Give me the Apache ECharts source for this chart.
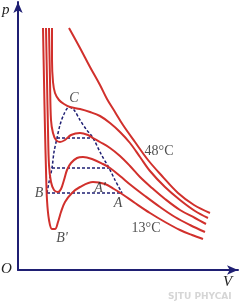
<!DOCTYPE html>
<html>
<head>
<meta charset="utf-8">
<script src="https://cdn.jsdelivr.net/npm/echarts@6/dist/echarts.min.js"></script>
<style>
  html, body { margin: 0; padding: 0; background: #fff; }
  #chart { width: 240px; height: 302px; }
</style>
</head>
<body>
<div id="chart"></div>
<script>
// isotherms, [V, p] (top one is 48°C, bottom one 13°C)
const iso48 = [[51,242],[62,222],[72,203],[82,185],[89,171],[97,158],[105,145],[117,128],[130,110],[144,94],[160,77],[176,65],[192,57]]
const isoCrit = [[34,242],[34,210],[35,188],[37,177],[41,170],[46,166],[52,163],[62,161],[72,158],[82,154],[92,147],[102,138],[112,127],[122,113],[132,99],[147,83],[162,70],[177,59],[190,52]]
const isoMid = [[31,242],[32,190],[33,150],[35,137],[38,130],[42,128],[47,130],[53,135],[62,137],[70,135],[75,132],[82,128],[92,122],[102,114],[112,104],[122,93],[134,82],[147,71],[162,60],[177,52],[188,46]]
const isoLow = [[28,242],[29,190],[30,140],[31,105],[33,88],[36,80],[40,78],[43,81],[46,90],[49,100],[53,107],[59,112],[65,113],[74,111],[85,106],[92,102],[102,94],[114,84],[127,74],[142,63],[157,53],[172,45],[187,38]]
const iso13 = [[25,242],[26,190],[27,140],[28,100],[29,70],[31,50],[34,41],[37,41],[40,48],[43,58],[47,68],[54,77],[62,83],[75,88],[87,86],[96,81],[104,76],[117,67],[132,57],[147,48],[162,40],[174,35],[185,31]]

// saturation dome and the horizontal tie lines
const dome = [[29,77],[31,88],[34,102],[36,118],[39,132],[42,145],[46,156],[51,163],[56,160],[62,150],[68,141],[75,132],[83,116],[91,102],[97,90],[104,77]]
const tieLines = [
  [[39,132],[75,132]],
  [[34,102],[91,102]],
  [[29,77],[104,77]]
]

// point names on the figure
const pointLabels = [
  { name: 'C', value: [56,172] },
  { name: 'B', value: [21,77] },
  { name: 'A', value: [100,67] },
  { name: "A'", value: [82,82] },
  { name: "B'", value: [44,32] }
]
const tempLabels = [
  { name: '48°C', value: [141,119] },
  { name: '13°C', value: [128,42] }
]

const red = '#d1302c'
const navy = '#1f1f73'

const chart = echarts.init(document.getElementById('chart'))

function isoSeries(data) {
  return {
    type: 'line',
    data: data,
    showSymbol: false,
    smooth: 0.35,
    silent: true,
    lineStyle: { color: red, width: 2 },
    z: 3
  }
}

function dashSeries(data, smooth) {
  return {
    type: 'line',
    data: data,
    showSymbol: false,
    smooth: smooth,
    silent: true,
    lineStyle: { color: navy, width: 1.5, type: [3, 2] },
    z: 2
  }
}

const axisCommon = {
  type: 'value',
  axisLine: {
    show: true,
    symbol: ['none', 'arrow'],
    symbolSize: [7, 11],
    lineStyle: { color: navy, width: 2 }
  },
  axisTick: { show: false },
  axisLabel: { show: false },
  splitLine: { show: false }
}

chart.setOption({
  animation: false,
  grid: { left: 18, top: 2, width: 220, height: 268 },
  xAxis: Object.assign({}, axisCommon, { min: 0, max: 220 }),
  yAxis: Object.assign({}, axisCommon, { min: 0, max: 268 }),
  graphic: [
    { type: 'text', left: 2, top: 3, style: { text: 'p', font: 'italic 15px "Liberation Serif"', fill: '#222' } },
    { type: 'text', left: 1, top: 262, style: { text: 'O', font: 'italic 15px "Liberation Serif"', fill: '#222' } },
    { type: 'text', left: 223, top: 275, style: { text: 'V', font: 'italic 15px "Liberation Serif"', fill: '#222' } },
    { type: 'text', left: 168, top: 292, style: { text: 'SJTU PHYCAI', font: 'bold 9px "DejaVu Sans"', fill: '#d6d6d6' } }
  ],
  series: [
    isoSeries(iso48),
    isoSeries(isoCrit),
    isoSeries(isoMid),
    isoSeries(isoLow),
    isoSeries(iso13),
    dashSeries(dome, 0.3),
    ...tieLines.map(d => dashSeries(d, false)),
    {
      type: 'scatter',
      data: pointLabels,
      symbolSize: 0,
      clip: false,
      silent: true,
      label: {
        show: true,
        position: [0, 0],
        align: 'center',
        verticalAlign: 'middle',
        formatter: '{b}',
        fontFamily: 'Liberation Serif',
        fontStyle: 'italic',
        fontSize: 14,
        color: '#222'
      },
      z: 5
    },
    {
      type: 'scatter',
      data: tempLabels,
      symbolSize: 0,
      clip: false,
      silent: true,
      label: {
        show: true,
        position: [0, 0],
        align: 'center',
        verticalAlign: 'middle',
        formatter: '{b}',
        fontFamily: 'Liberation Serif',
        fontSize: 14,
        color: '#222'
      },
      z: 5
    }
  ]
})
</script>
</body>
</html>
